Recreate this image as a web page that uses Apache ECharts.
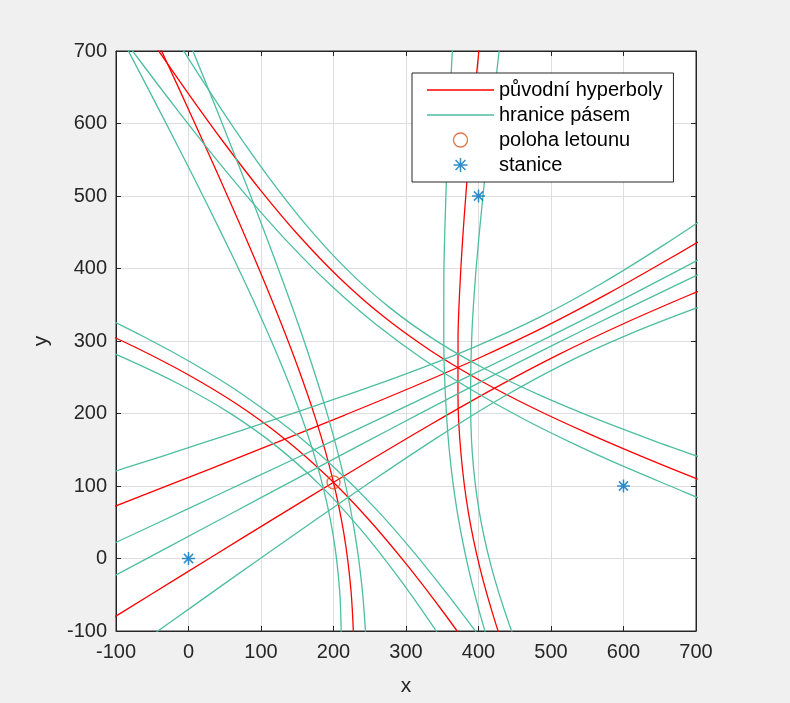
<!DOCTYPE html>
<html>
<head>
<meta charset="utf-8">
<script src="https://cdn.jsdelivr.net/npm/echarts@6/dist/echarts.min.js"></script>
<style>
  html, body { margin: 0; padding: 0; background: #f0f0f0; }
  #chart { width: 790px; height: 703px; }
</style>
</head>
<body>
<div id="chart"></div>
<script>
// Ground stations and aircraft position
const stations = [[0, 0], [400, 500], [600, 100]];
const aircraft = [[200, 105]];

// Axis ticks
const xTicks = [-100, 0, 100, 200, 300, 400, 500, 600, 700];
const yTicks = [-100, 0, 100, 200, 300, 400, 500, 600, 700];

// Pair station 1 - station 2: original hyperbola (both branches)
const hypA1 = [[-148.70,326.37],[-74.02,291.67],[-1.64,254.08],[67.44,212.37],[132.26,165.33],[192.38,112.41],[248.24,54.18],[300.80,-8.19],[351.06,-73.43],[399.75,-140.63]];
const hypA2 = [[-47.39,709.14],[0.25,640.63],[48.94,573.43],[99.20,508.19],[151.76,445.82],[207.62,387.59],[267.74,334.67],[332.56,287.63],[401.64,245.92],[474.02,208.33],[548.70,173.63],[624.95,140.87],[702.25,109.42]];
// Pair 1-2: band boundaries
const bandA1out = [[-163.55,307.81],[-86.76,275.75],[-12.63,240.34],[57.65,200.12],[122.89,153.62],[182.59,100.16],[237.25,40.44],[288.06,-24.11],[336.21,-91.99],[382.56,-162.12]];
const bandA1in  = [[-134.30,342.00],[-61.57,305.80],[9.21,267.20],[77.20,224.57],[141.63,177.04],[202.14,124.61],[259.09,67.74],[311.80,7.38],[361.80,-55.42],[410.50,-119.90]];
const bandA2out = [[-27.71,733.75],[17.44,662.12],[63.79,591.99],[111.94,524.11],[162.75,459.56],[217.41,399.84],[277.11,346.38],[342.35,299.88],[412.63,259.66],[486.76,224.25],[563.55,192.19],[642.14,162.36],[721.93,134.03]];
const bandA2in  = [[-115.64,751.90],[-66.30,685.51],[-16.33,619.90],[34.54,555.42],[86.75,492.62],[140.91,432.26],[197.86,375.39],[258.37,322.96],[322.80,275.43],[390.79,232.36],[461.57,192.76],[534.30,156.80],[608.37,123.50],[683.34,92.00],[758.94,59.50]];

// Pair station 1 - station 3: original hyperbola (both branches)
const hypB1 = [[-47.30,722.04],[-12.48,646.75],[21.88,571.37],[55.59,495.89],[88.38,420.25],[119.83,344.38],[149.28,268.19],[175.72,191.49],[197.79,114.07],[214.11,35.69],[224.09,-43.75],[228.32,-124.15]];
const hypB3 = [[402.04,715.83],[394.00,633.39],[386.59,551.05],[380.10,468.87],[374.95,386.90],[371.80,305.27],[371.68,224.15],[375.91,143.75],[385.89,64.31],[402.21,-14.07],[424.28,-91.49],[450.72,-168.19]];
// Pair 1-3: band boundaries
const bandB1out = [[-90.69,714.81],[-51.64,640.22],[-13.12,565.54],[24.64,490.73],[61.33,415.74],[96.45,340.48],[129.20,264.84],[158.38,188.60],[182.31,111.49],[199.32,33.22],[208.61,-46.33],[210.98,-127.04]];
const bandB1in  = [[-5.62,728.99],[25.18,653.02],[55.60,576.99],[85.48,500.87],[114.59,424.62],[142.60,348.17],[168.95,271.47],[192.86,194.35],[213.20,116.63],[228.91,38.15],[239.50,-41.19],[245.46,-121.29]];
const bandB3out = [[431.00,722.36],[421.50,639.22],[412.00,556.21],[403.50,473.38],[396.00,390.80],[390.80,308.62],[389.02,227.04],[391.39,146.33],[400.68,66.78],[417.69,-11.49],[441.62,-88.60],[470.80,-164.84]];
const bandB3in  = [[364.38,709.56],[360.28,627.77],[356.70,546.07],[353.89,464.50],[352.18,383.11],[352.13,301.99],[354.54,221.29],[360.50,141.19],[371.09,61.85],[386.80,-16.63],[407.14,-94.35],[431.05,-171.47]];

// Pair station 2 - station 3: original hyperbola (both branches)
const hypC3 = [[-179.91,-129.04],[-94.58,-76.09],[-9.20,-23.25],[76.27,29.42],[161.87,81.83],[247.70,133.78],[333.95,184.88],[421.03,234.34],[509.55,280.90],[599.91,323.78],[691.73,363.76],[784.36,402.10]];
const hypC2 = [[-157.62,49.99],[-64.12,86.59],[29.29,123.36],[122.59,160.41],[215.64,197.90],[308.27,236.24],[400.09,276.22],[490.45,319.10],[578.97,365.66],[666.05,415.12],[752.30,466.22]];
// Pair 2-3: band boundaries
const bandC3out = [[-72.01,-121.23],[10.45,-62.55],[93.06,-4.16],[175.90,53.79],[259.11,110.95],[343.06,166.67],[428.41,219.58],[516.26,267.48],[607.29,309.02],[700.84,345.55],[795.77,379.27]];
const bandC3in  = [[-116.75,-31.75],[-28.51,15.38],[59.75,62.46],[148.06,109.46],[236.43,156.32],[324.93,202.93],[413.67,249.05],[502.84,294.31],[592.55,338.49],[682.71,381.81],[773.09,424.64]];
const bandC2out = [[-180.19,95.13],[-83.77,125.89],[12.50,156.94],[108.56,188.45],[204.23,220.73],[299.16,254.45],[392.59,290.98],[483.74,332.52],[571.59,380.42],[656.94,433.33],[740.89,489.05]];
const bandC2in  = [[-135.45,5.65],[-44.81,47.96],[45.81,90.32],[136.40,132.78],[226.91,175.36],[317.29,218.19],[407.45,261.51],[497.16,305.69],[586.33,350.95],[675.07,397.07],[763.57,443.68]];

const NAME_HYP = 'původní hyperboly';
const NAME_BAND = 'hranice pásem';
const NAME_PLANE = 'poloha letounu';
const NAME_STATION = 'stanice';

const RED = '#ff0000';
const GREEN = '#4dbea0';
const ORANGE = '#d95319';
const BLUE = '#0072bd';
const INK = '#262626';
const FONT = "'Liberation Sans', Arial, Helvetica, sans-serif";

// Thin horizontal bar used as the legend sample for line entries
const LINE_ICON = 'path://M0,0H67V1.4H0Z';
const STAR = 'path://M5,0L5,10M0,5L10,5M1.46,1.46L8.54,8.54M1.46,8.54L8.54,1.46';

const hypCurves = [hypA1, hypA2, hypB1, hypB3, hypC3, hypC2];
const bandCurves = [bandA1out, bandA1in, bandA2out, bandA2in,
                    bandB1out, bandB1in, bandB3out, bandB3in,
                    bandC3out, bandC3in, bandC2out, bandC2in];

function curveSeries(name, data, color) {
  return {
    type: 'line', name: name, data: data,
    symbol: 'none', smooth: 0.3, clip: true, silent: true,
    lineStyle: { color: color, width: 1.3 },
    itemStyle: { color: color },
    z: 2
  };
}

const series = [];
hypCurves.forEach(d => series.push(curveSeries(NAME_HYP, d, RED)));
bandCurves.forEach(d => series.push(curveSeries(NAME_BAND, d, GREEN)));
series.push({
  type: 'scatter', name: NAME_PLANE, data: aircraft,
  symbol: 'circle', symbolSize: 13, silent: true,
  itemStyle: { color: 'rgba(0,0,0,0)', borderColor: ORANGE, borderWidth: 1.3 },
  z: 5
});
series.push({
  type: 'scatter', name: NAME_STATION, data: stations,
  symbol: STAR, symbolSize: 13, silent: true,
  itemStyle: { color: 'rgba(0,0,0,0)', borderColor: BLUE, borderWidth: 1.5 },
  z: 5
});

function valueAxis(pos, main, ticks) {
  return {
    type: 'value', position: pos,
    min: ticks[0], max: ticks[ticks.length - 1], interval: ticks[1] - ticks[0],
    axisLine: { show: true, onZero: false, lineStyle: { color: INK, width: 1 } },
    axisTick: { show: true, inside: true, length: 5, lineStyle: { color: INK, width: 1 } },
    axisLabel: { show: main, fontSize: 20, color: INK, fontFamily: FONT, margin: pos === 'bottom' ? 11 : 9 },
    splitLine: { show: main, lineStyle: { color: '#dedede', width: 1 } }
  };
}

const xMain = valueAxis('bottom', true, xTicks);
xMain.name = 'x';
xMain.nameLocation = 'middle';
xMain.nameGap = 45;
xMain.nameTextStyle = { fontSize: 21, color: INK, fontFamily: FONT };
const yMain = valueAxis('left', true, yTicks);
yMain.name = 'y';
yMain.nameLocation = 'middle';
yMain.nameGap = 64;
yMain.nameTextStyle = { fontSize: 21, color: INK, fontFamily: FONT };

const chart = echarts.init(document.getElementById('chart'), null, { renderer: 'canvas' });
chart.setOption({
  animation: false,
  backgroundColor: '#f0f0f0',
  grid: {
    left: 116, top: 51, width: 580, height: 580,
    show: true, backgroundColor: '#ffffff', borderColor: INK, borderWidth: 1
  },
  xAxis: [xMain, valueAxis('top', false, xTicks)],
  yAxis: [yMain, valueAxis('right', false, yTicks)],
  legend: {
    orient: 'vertical', left: 412, top: 73,
    data: [
      { name: NAME_HYP, icon: LINE_ICON, itemStyle: { color: RED, borderWidth: 0 } },
      { name: NAME_BAND, icon: LINE_ICON, itemStyle: { color: GREEN, borderWidth: 0 } },
      { name: NAME_PLANE, itemStyle: { borderWidth: 1.3 } },
      { name: NAME_STATION, itemStyle: { borderWidth: 1.5 } }
    ],
    itemWidth: 67, itemHeight: 14, itemGap: 5,
    padding: [7, 11, 7, 15],
    symbolKeepAspect: true,
    backgroundColor: '#ffffff', borderColor: INK, borderWidth: 1,
    selectedMode: false,
    textStyle: { fontFamily: FONT, fontSize: 20, color: '#000000', lineHeight: 20 }
  },
  series: series
});
</script>
</body>
</html>
